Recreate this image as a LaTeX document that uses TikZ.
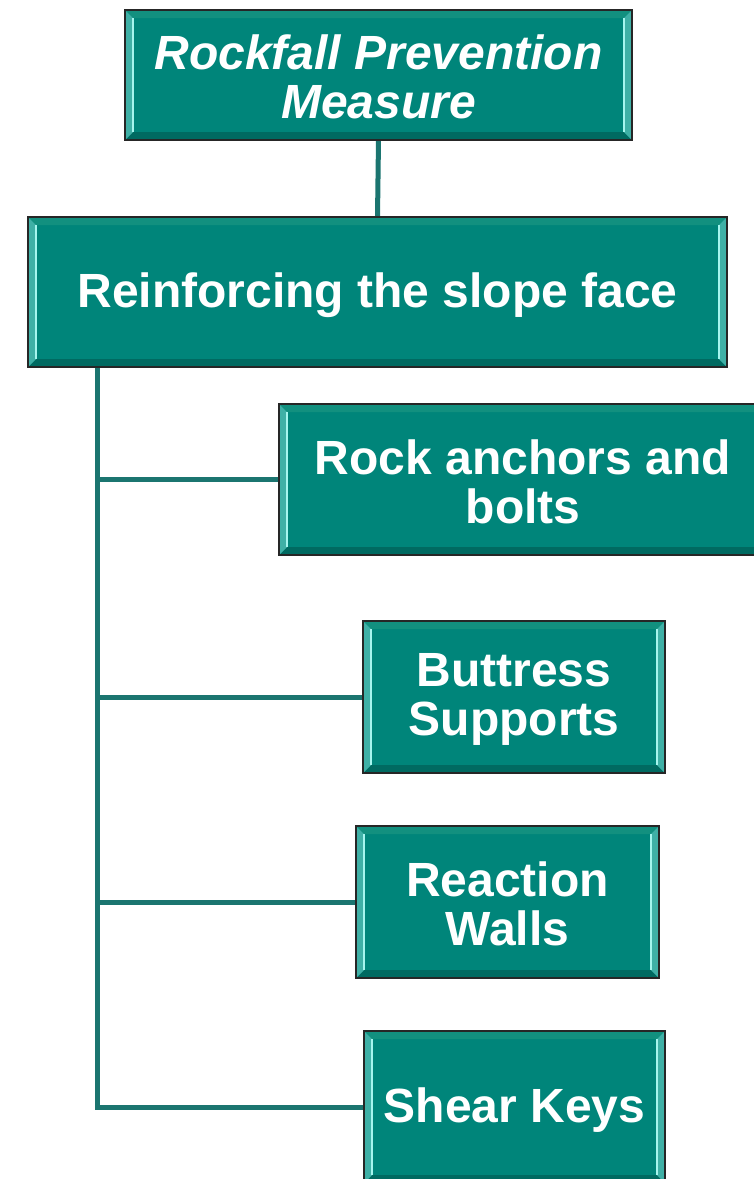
\documentclass[tikz,border=0pt]{standalone}
\usepackage{fontspec}
\setmainfont{Liberation Sans}
\usetikzlibrary{calc,positioning}
\definecolor{boxteal}{HTML}{00857A}
\definecolor{linkteal}{HTML}{1B7570}
\definecolor{bevside}{HTML}{3FB0A6}
\definecolor{bevedge}{HTML}{A6F5EE}
\definecolor{bevtop}{HTML}{12907F}
\definecolor{bevbot}{HTML}{006A61}

% bevelled frame drawn over a box
\newcommand{\bevel}[1]{
	\fill[bevtop] (#1.north west) -- (#1.north east) -- ([shift={(-8pt,-8pt)}]#1.north east) -- ([shift={(8pt,-8pt)}]#1.north west) -- cycle;
	\fill[bevbot] (#1.south west) -- (#1.south east) -- ([shift={(-8pt,8pt)}]#1.south east) -- ([shift={(8pt,8pt)}]#1.south west) -- cycle;
	\fill[bevside] (#1.north west) -- (#1.south west) -- ([shift={(8pt,8pt)}]#1.south west) -- ([shift={(8pt,-8pt)}]#1.north west) -- cycle;
	\fill[bevside] (#1.north east) -- (#1.south east) -- ([shift={(-8pt,8pt)}]#1.south east) -- ([shift={(-8pt,-8pt)}]#1.north east) -- cycle;
	\draw[bevedge, line width=1.5pt] ([shift={(8pt,-8pt)}]#1.north west) -- ([shift={(8pt,8pt)}]#1.south west);
	\draw[bevedge, line width=1.5pt] ([shift={(-8pt,-8pt)}]#1.north east) -- ([shift={(-8pt,8pt)}]#1.south east);
	\draw[black!85, line width=1.2pt] (#1.north west) rectangle (#1.south east);
}

\begin{document}
\begin{tikzpicture}[x=1pt, y=-1pt,
		box/.style={fill=boxteal, draw=black!85, line width=1.2pt, outer sep=0pt, inner sep=0pt,
			text=white, align=center, font=\fontsize{48}{49}\selectfont\bfseries},
		link/.style={draw=linkteal, line width=5pt}]
	\useasboundingbox (0,0) rectangle (754,1179);
	\clip (0,0) rectangle (754,1179);
	% boxes
	\node [box, minimum width=507pt, minimum height=130pt] (measure) at (378.5,75) {};
	\node [box, minimum width=699pt, minimum height=150pt] (face) at (377.5,292) {};
	\node [box, minimum width=488pt, minimum height=151pt] (anchors) at (523,479.5) {};
	\node [box, minimum width=302pt, minimum height=152pt] (buttress) at (514,697) {};
	\node [box, minimum width=303pt, minimum height=152pt] (walls) at (507.5,902) {};
	\node [box, minimum width=301pt, minimum height=152pt] (keys) at (514.5,1107) {};
	% connectors
	\coordinate (trunk) at ([xshift=69pt]face.south west);
	\draw [link] (measure.south) -- (face.north);
	\draw [link] (trunk) |- (anchors.west);
	\draw [link] (trunk) |- (buttress.west);
	\draw [link] (trunk) |- (walls.west);
	\draw [link] (trunk) |- (keys.west);
	% bevels
	\foreach \b in {measure,face,anchors,buttress,walls,keys} {\bevel{\b}}
	% labels
	\tikzstyle{every node}=[text=white, align=center, font=\fontsize{48}{49}\selectfont\bfseries]
	\node [font=\fontsize{48}{49}\selectfont\bfseries\itshape] (measure text) at ([yshift=-2pt]measure) {Rockfall Prevention\\Measure};
	\node (face text) at ([yshift=-3pt]face) {Reinforcing the slope face};
	\node (anchors text) at ([yshift=-2pt]anchors) {Rock anchors and\\bolts};
	\node (buttress text) at ([yshift=-2pt]buttress) {Buttress\\Supports};
	\node (walls text) at ([yshift=-2pt]walls) {Reaction\\Walls};
	\node (keys text) at ([yshift=-3pt]keys) {Shear Keys};
\end{tikzpicture}
\end{document}
